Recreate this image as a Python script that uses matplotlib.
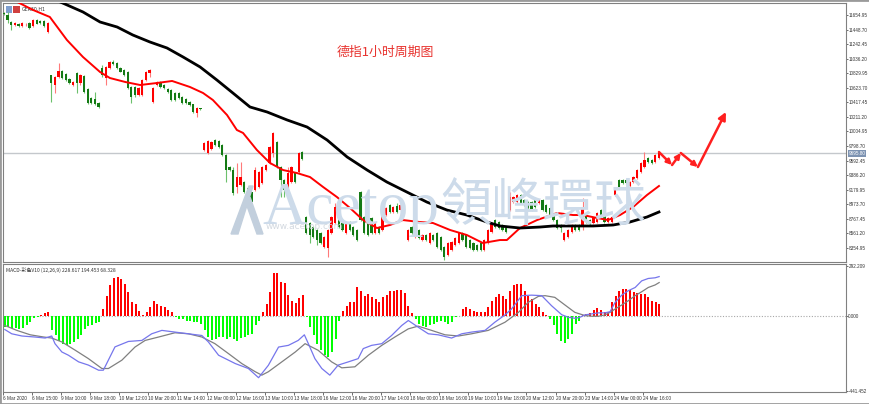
import numpy as np
import matplotlib
matplotlib.use('Agg')
from matplotlib import pyplot as plt
from matplotlib.patches import Rectangle, Polygon

W, H = 870, 404

# GER30 H1 candles, one row per session block
opens = [11680, 11655, 11555, 11515, 11530, 11500, 11520, 11540, 11500, 11585, 11570, 11565, 11415,
         10805, 10665, 10775, 10860, 10820, 10750, 10665, 10830, 10690, 10790, 10610, 10480, 10465, 10410,
         10905, 10760, 10905, 10990, 10975, 10905, 10875, 10845, 10635, 10635, 10520, 10520, 10735, 10835,
         10420, 10665, 10705, 10665, 10605, 10590, 10550, 10550, 10495, 10465, 10420, 10390, 10267, 10330,
         9745, 9700, 9760, 9885, 9870, 9815, 9670, 9500, 9460, 9220, 9250, 9290, 9205, 9150,
         9175, 9220, 9275, 9460, 9560, 9700, 9855, 9500, 9320, 9175, 9290, 9415, 9430, 9715,
         8795, 8710, 8650, 8610, 8570, 8370, 8355, 8570, 8710, 8850, 8710, 8570, 8725, 8650,
         8610, 9150, 8795, 8750, 8780, 8570, 8650, 8610, 8825, 8965, 8865, 8950, 8895, 8965,
         8470, 8650, 8510, 8610, 8470, 8540, 8425, 8540, 8570, 8510, 8370, 8255, 8330, 8400,
         8425, 8570, 8540, 8470, 8425, 8400, 8425, 8330, 8426, 8580, 8750, 8720, 8680, 8640,
         8895, 9005, 9005, 9105, 9035, 9005, 9005, 9035, 8990, 9035, 8965, 8920, 8820, 8750,
         8680, 8470, 8510, 8580, 8680, 8680, 8650, 8820, 8750, 8710, 8725, 8895, 8820, 8725,
         8725, 9105, 9320, 9320, 9320, 9235, 9290, 9345, 9430, 9500, 9630, 9600, 9575, 9630]
highs = [11690, 11700, 11570, 11555, 11545, 11550, 11545, 11555, 11600, 11600, 11585, 11580, 11555,
         10810, 10790, 10975, 10880, 10835, 10765, 10720, 10850, 10820, 10805, 10625, 10490, 10565, 10420,
         10945, 10935, 11005, 11020, 10990, 10920, 10890, 10860, 10650, 10650, 10640, 10750, 10860, 10885,
         10635, 10720, 10720, 10680, 10620, 10605, 10565, 10565, 10510, 10480, 10435, 10400, 10350, 10335,
         9850, 9880, 9875, 9895, 9880, 9830, 9680, 9515, 9500, 9560, 9575, 9305, 9220, 9165,
         9500, 9445, 9515, 9545, 9800, 10000, 9870, 9515, 9330, 9500, 9515, 9430, 9715, 9730,
         8810, 8725, 8665, 8625, 8585, 8525, 8625, 8810, 8990, 8865, 8725, 8725, 8740, 8665,
         8625, 9160, 8810, 8765, 8795, 8725, 8665, 8910, 8935, 8980, 8950, 8990, 8980, 8980,
         8625, 8665, 8595, 8625, 8555, 8555, 8585, 8555, 8585, 8525, 8385, 8440, 8455, 8510,
         8585, 8585, 8555, 8485, 8440, 8415, 8440, 8485, 8625, 8725, 8765, 8735, 8695, 8655,
         9150, 9090, 9120, 9120, 9050, 9020, 9020, 9050, 9050, 9050, 8980, 8935, 8835, 8765,
         8695, 8585, 8625, 8695, 8695, 8695, 9060, 8835, 8765, 8795, 8865, 8910, 8835, 8795,
         8810, 9190, 9335, 9335, 9335, 9305, 9375, 9475, 9575, 9715, 9645, 9615, 9685, 9715]
lows = [11660, 11540, 11440, 11500, 11485, 11490, 11505, 11460, 11490, 11520, 11530, 11490, 11400,
        10420, 10550, 10760, 10745, 10720, 10680, 10650, 10550, 10670, 10550, 10395, 10395, 10380, 10340,
        10775, 10665, 10890, 10945, 10890, 10840, 10790, 10600, 10410, 10500, 10505, 10505, 10720, 10775,
        10405, 10650, 10620, 10605, 10550, 10435, 10435, 10465, 10395, 10395, 10365, 10265, 10210, 10310,
        9735, 9690, 9745, 9800, 9770, 9655, 9290, 9445, 9105, 9135, 9230, 9135, 9090, 8990,
        9160, 9205, 9260, 9445, 9545, 9645, 9485, 9075, 9075, 9075, 9275, 9275, 9415, 9600,
        8555, 8425, 8495, 8400, 8410, 8355, 8230, 8555, 8695, 8635, 8595, 8555, 8595, 8525,
        8455, 8735, 8555, 8525, 8555, 8555, 8555, 8595, 8810, 8850, 8850, 8850, 8880, 8850,
        8455, 8555, 8495, 8480, 8455, 8455, 8410, 8455, 8355, 8315, 8185, 8240, 8315, 8385,
        8410, 8455, 8355, 8340, 8315, 8315, 8315, 8315, 8410, 8565, 8635, 8625, 8595, 8565,
        8880, 8990, 8990, 8975, 8950, 8905, 8880, 8920, 8975, 8880, 8850, 8805, 8735, 8625,
        8580, 8455, 8495, 8565, 8595, 8595, 8610, 8710, 8665, 8695, 8710, 8780, 8710, 8710,
        8710, 9090, 9205, 9260, 9260, 9220, 9275, 9330, 9415, 9485, 9560, 9545, 9560, 9615]
closes = [11665, 11585, 11515, 11540, 11500, 11540, 11530, 11470, 11585, 11530, 11540, 11500, 11540,
          10690, 10775, 10860, 10760, 10735, 10690, 10705, 10690, 10800, 10565, 10410, 10410, 10395, 10355,
          10805, 10920, 10990, 10960, 10905, 10850, 10805, 10620, 10495, 10520, 10620, 10735, 10845, 10875,
          10620, 10705, 10635, 10620, 10565, 10450, 10450, 10480, 10410, 10410, 10380, 10280, 10337, 10320,
          9840, 9870, 9860, 9815, 9785, 9670, 9460, 9460, 9135, 9360, 9360, 9150, 9105, 9005,
          9460, 9430, 9500, 9530, 9785, 9985, 9500, 9320, 9175, 9415, 9500, 9290, 9700, 9615,
          8570, 8540, 8510, 8470, 8425, 8510, 8610, 8795, 8935, 8650, 8610, 8710, 8610, 8540,
          8470, 8750, 8570, 8540, 8570, 8710, 8570, 8895, 8920, 8865, 8935, 8865, 8965, 8865,
          8610, 8570, 8580, 8495, 8540, 8470, 8570, 8470, 8370, 8330, 8230, 8425, 8440, 8495,
          8570, 8470, 8370, 8355, 8330, 8330, 8330, 8470, 8610, 8710, 8650, 8640, 8610, 8580,
          9075, 9075, 9105, 8990, 8965, 8920, 8895, 8935, 9035, 8895, 8865, 8820, 8750, 8640,
          8640, 8570, 8610, 8680, 8610, 8610, 8920, 8725, 8680, 8780, 8850, 8795, 8725, 8780,
          8795, 9175, 9220, 9275, 9275, 9290, 9360, 9460, 9560, 9600, 9575, 9560, 9670, 9695]

# moving averages (bar index, price)
ma_fast_x = [0, 3.6, 8.0, 12.6, 17.3, 21.7, 26.4, 29.1, 33.3, 37.4, 42.0, 46.2, 51.1, 54.7, 57.4, 61.3,
             64.0, 65.7, 69.5, 73.1, 76.7, 80.5, 84.1, 87.7, 91.5, 95.1, 98.7, 102.5, 106.1, 109.6, 114.3,
             117.9, 122.6, 127.2, 131.6, 136.3, 138.2, 141.8, 146.5, 152.0, 156.4, 159.1, 163.0, 166.0,
             169.3, 172.9, 176.7, 180]
ma_fast_y = [11930, 11840, 11725, 11626, 11300, 11060, 10847, 10762, 10706, 10663, 10691, 10720, 10635,
             10550, 10451, 10238, 10026, 9984, 9743, 9559, 9459, 9417, 9360, 9219, 9077, 8921, 8751, 8638,
             8681, 8751, 8723, 8709, 8610, 8539, 8426, 8468, 8468, 8638, 8751, 8851, 8822, 8822, 8780,
             8751, 8822, 8936, 9105, 9233]
ma_slow_x = [0, 15.4, 21.7, 26.4, 31.1, 35.4, 40.1, 44.8, 49.2, 53.9, 58.5, 62.9, 67.6, 72.3, 77.8, 83.3,
             88.8, 94.3, 99.8, 105.2, 110.7, 116.2, 121.7, 127.2, 132.7, 136.3, 141.8, 147.3, 150.9, 156.4,
             161.9, 167.4, 172.0, 176.7, 180]
ma_slow_y = [12250, 11840, 11697, 11555, 11484, 11371, 11272, 11187, 11060, 10918, 10734, 10550, 10352,
             10281, 10168, 10068, 9884, 9644, 9459, 9290, 9148, 9006, 8893, 8822, 8723, 8667, 8638, 8652,
             8667, 8667, 8667, 8681, 8723, 8794, 8865]

# MACD colour histogram
macd_hist = [-68, -68, -74, -74, -78, -74, -58, -35, -16, -10, 4, 18, 22,
             -87, -117, -151, -165, -175, -165, -155, -136, -113, -78, -64, -54, -45, -39,
             39, 117, 179, 219, 229, 213, 184, 140, 78, 68, 29, 6, 19, 49, 83, 68, 58, 49, 33, 19,
             -10, -19, -23, -29, -29, -35, -39, -49, -82, -126, -146, -136, -126, -126, -136, -126,
             -140, -151, -132, -126, -117, -107, -58, -29,
             19, 68, 136, 252, 249, 198, 190, 120, 87, 74, 101, 120,
             -6, -68, -117, -165, -204, -229, -243, -214, -136, -29,
             29, 58, 78, 78, 165, 146, 117, 126, 107, 97, 78, 107, 120, 146, 146, 150, 150, 132, 58, 14,
             -19, -49, -62, -68, -58, -49, -39, -29, -39, -49, -35, -10, -4,
             39, 49, 39, 29, 23, 23, 19, 49, 87, 107, 126, 117, 97, 146, 179, 188, 184, 146, 117, 97,
             68, 49, 19, 4,
             -19, -58, -110, -150, -159, -140, -110, -50, -30,
             4, 10, 16, 35, 45, 35, 19, 19, 78, 113, 146, 155, 155, 151, 140, 132, 126, 126, 107, 87, 82, 68]
macd_main_x = [0, 1.9, 4.7, 8.3, 11.1, 12.9, 13.8, 15.7, 17.5, 20.3, 23, 25.8, 27.1, 30.3, 34, 37.7, 40.4,
               43.2, 46.8, 50.5, 54.2, 56, 58.8, 63.4, 67, 69.8, 72.5, 75.3, 78, 80.7, 82.4, 83.5, 85.3,
               87.2, 89.4, 91.7, 94.5, 97.2, 98.6, 100.9, 103.7, 106.4, 109.2, 111, 113.7, 116.5, 119.2,
               122.9, 125.7, 128.4, 132.1, 134.8, 137.6, 139.4, 142.2, 144.9, 147.7, 150.4, 153.2, 155,
               156.9, 158.2, 159.6, 161.5, 163.3, 165.1, 166.5, 167.9, 169.7, 171.5, 173.4, 175.2, 177,
               178.9, 180]
macd_main_y = [-82, -107, -120, -126, -132, -120, -165, -214, -233, -272, -291, -321, -321, -184, -152,
               -146, -107, -87, -97, -107, -117, -155, -233, -282, -311, -365, -292, -185, -175, -146,
               -113, -165, -253, -311, -350, -291, -272, -253, -194, -175, -165, -117, -58, -29, -68,
               -107, -113, -132, -107, -97, -87, -39, 4, 39, 117, 120, 117, 58, 5, -10, -16, -10, 4, 10,
               16, 16, 23, 78, 120, 146, 165, 204, 218, 222, 229]
macd_sig_x = [0, 3.3, 7, 10.7, 12.9, 15.7, 19.4, 23, 26.7, 28.5, 32.2, 35.8, 38.6, 42.3, 46.8, 50.5, 54.2,
              57.8, 61.5, 65.2, 68.9, 70.7, 72.5, 76.2, 79.9, 82.6, 86.2, 89.9, 92.7, 96.3, 100, 103.7,
              107.3, 111, 113.7, 117.4, 121.1, 124.8, 128.4, 133, 137.6, 141.3, 144, 146.8, 148.6, 151.3,
              154.1, 156.8, 159.6, 161.5, 163.3, 165.1, 166.5, 167.9, 169.7, 171.5, 173.4, 175.2, 177,
              178.9, 180]
macd_sig_y = [-58, -87, -113, -126, -132, -155, -204, -253, -311, -311, -262, -185, -146, -126, -101, -107,
              -126, -165, -223, -282, -330, -350, -330, -272, -214, -165, -204, -272, -307, -301, -233,
              -175, -126, -78, -62, -87, -113, -120, -107, -87, -39, 19, 78, 113, 117, 107, 62, 19, 0,
              -4, -4, 4, 19, 39, 62, 87, 117, 140, 165, 180, 194]

date_labels = ['6 Mar 2020', '6 Mar 15:00', '9 Mar 10:00', '9 Mar 18:00', '10 Mar 12:00', '10 Mar 20:00',
               '11 Mar 14:00', '12 Mar 00:00', '12 Mar 16:00', '13 Mar 10:00', '13 Mar 18:00',
               '16 Mar 12:00', '16 Mar 20:00', '17 Mar 14:00', '18 Mar 00:00', '18 Mar 16:00',
               '19 Mar 10:00', '19 Mar 18:00', '20 Mar 12:00', '20 Mar 20:00', '23 Mar 14:00',
               '24 Mar 00:00', '24 Mar 16:00']
price_ticks = [11654.95, 11448.70, 11242.45, 11036.20, 10829.95, 10623.70, 10417.45, 10211.20,
               10004.95, 9798.70, 9592.45, 9386.20, 9179.95, 8973.70, 8767.45, 8561.20, 8354.95]
last_price = 9695.80

# hand-drawn forecast path (bar index, price)
proj_x = [180, 183.6, 186, 190.7, 198.4]
proj_y = [9714, 9530, 9700, 9502, 10281]

assert len(opens) == len(highs) == len(lows) == len(closes) == len(macd_hist) == 181

def fx(px):
    return px / W

def fy(py):
    return 1 - py / H

small = 'Liberation Sans'

fig = plt.figure(figsize=(W / 100, H / 100), dpi=100)
fig.patch.set_facecolor('white')
ax1 = fig.add_axes([fx(3), fy(262), fx(846) - fx(3), fy(3) - fy(262)])
ax2 = fig.add_axes([fx(3), fy(392), fx(846) - fx(3), fy(264) - fy(392)])

idx = np.arange(len(closes))
o = np.array(opens, float)
c = np.array(closes, float)
hi = np.maximum(np.array(highs, float), np.maximum(o, c))
lo = np.minimum(np.array(lows, float), np.minimum(o, c))
up = c >= o
body_col = np.where(up, '#ff0000', '#147a14')
wick_col = np.where(up, '#ff7a7a', '#6cc06c')

# watermark first so the chart sits over it
wm = '#cddbea'
fig.text(fx(262), fy(209), 'Acetop', fontsize=44, color=wm, family='Liberation Serif',
         va='center', ha='left', zorder=0)
fig.text(fx(440), fy(206), '領峰環球', fontsize=37, color=wm, family=['Noto Sans CJK TC', 'DejaVu Sans'],
         va='center', ha='left', zorder=0)
fig.text(fx(266), fy(226), 'www.acetop.com', fontsize=6.5, color='#d3d9e0', va='center', ha='left', zorder=0)
logo1 = Polygon([(fx(231), fy(234)), (fx(249), fy(186)), (fx(253), fy(186)), (fx(238), fy(234))],
                closed=True, transform=fig.transFigure, color='#c2cfdd', zorder=0)
logo2 = Polygon([(fx(250), fy(197)), (fx(263), fy(234)), (fx(257), fy(234)), (fx(247), fy(206))],
                closed=True, transform=fig.transFigure, color='#c2cfdd', zorder=0)
fig.patches.extend([logo1, logo2])

for ax in (ax1, ax2):
    ax.patch.set_alpha(0)
    ax.set_xlim(-0.27, 231.4)
    for s in ax.spines.values():
        s.set_color('#808080')
        s.set_linewidth(0.8)

# price panel
ax1.axhline(last_price, color='#c4c8cc', lw=1, zorder=1)
ax1.vlines(idx, lo, hi, colors=wick_col, lw=0.8, zorder=2)
ax1.bar(idx, np.maximum(np.abs(c - o), 12), bottom=np.minimum(o, c), width=0.62,
        color=body_col, zorder=3)
ax1.plot(ma_fast_x, ma_fast_y, color='#ff0000', lw=1.4, zorder=4)
ax1.plot(ma_slow_x, ma_slow_y, color='black', lw=2.0, zorder=4)

for k in range(len(proj_x) - 1):
    last = k == len(proj_x) - 2
    ax1.annotate('', xy=(proj_x[k + 1], proj_y[k + 1]), xytext=(proj_x[k], proj_y[k]),
                 arrowprops=dict(arrowstyle='-|>,head_length=0.5,head_width=0.25',
                                 color='#ff1f1f', lw=1.8, shrinkA=0, shrinkB=0,
                                 mutation_scale=9 if last else 6), zorder=5)

ax1.set_ylim(8157, 11824)
ax1.set_xticks([])
ax1.yaxis.tick_right()
ax1.set_yticks(price_ticks)
ax1.set_yticklabels(['%.2f' % p for p in price_ticks], family=small)
ax1.tick_params(axis='y', labelsize=3.3, length=1.2, width=0.5, pad=0.5, colors='#333333')
ax1.annotate('%.2f' % last_price, xy=(1.0, last_price), xycoords=('axes fraction', 'data'),
             xytext=(1.7, 0), textcoords='offset points', va='center', ha='left', fontsize=3.3,
             family=small, color='white',
             bbox=dict(boxstyle='square,pad=0.15', fc='#7d93b2', ec='none'))
ax1.text(0.022, 0.985, 'GER30,H1', transform=ax1.transAxes, fontsize=3.4, va='top', ha='left',
         color='#333333')
ax1.add_patch(Rectangle((0.003, 0.962), 0.008, 0.026, transform=ax1.transAxes, fc='#7f9fd0', ec='none'))
ax1.add_patch(Rectangle((0.012, 0.962), 0.008, 0.026, transform=ax1.transAxes, fc='#d04040', ec='none'))

fig.text(fx(385), fy(52), '德指1小时周期图', fontsize=9.3, color='#e8332f', ha='center', va='center',
         family=['Noto Sans CJK SC', 'DejaVu Sans'])

# MACD panel
h = np.array(macd_hist, float)
ax2.axhline(0, color='#a8a8a8', lw=0.8, ls=(0, (1, 1.5)), zorder=1)
ax2.bar(idx, h, width=0.55, color=np.where(h >= 0, '#ff0000', '#00ff00'), zorder=2)
ax2.plot(macd_sig_x, macd_sig_y, color='#808080', lw=0.9, zorder=3)
ax2.plot(macd_main_x, macd_main_y, color='#7676ec', lw=0.9, zorder=3)
ax2.set_ylim(-449, 303)
ax2.yaxis.tick_right()
ax2.set_yticks([292.209, 0, -441.452])
ax2.set_yticklabels(['292.209', '0.000', '-441.452'], family=small)
ax2.tick_params(axis='y', labelsize=3.3, length=1.2, width=0.5, pad=0.5, colors='#333333')
ax2.set_xticks([8 * k - 0.5 for k in range(len(date_labels))])
ax2.set_xticklabels(date_labels, family=small)
ax2.tick_params(axis='x', labelsize=3.4, length=2.5, width=0.5, pad=0.5, colors='#333333')
for t in ax2.get_xticklabels():
    t.set_ha('left')
ax2.text(0.003, 0.975, 'MACD-彩色V10 (12,26,9) 228.617 194.453 68.328', transform=ax2.transAxes,
         fontsize=3.6, va='top', ha='left', color='#333333', family=['Noto Sans CJK SC', 'DejaVu Sans'])

fig.patches.append(Rectangle((0, 0), 1, 1, transform=fig.transFigure, fill=False,
                             ec='#9a9a9a', lw=2))

fig.savefig('out.png', dpi=100)
